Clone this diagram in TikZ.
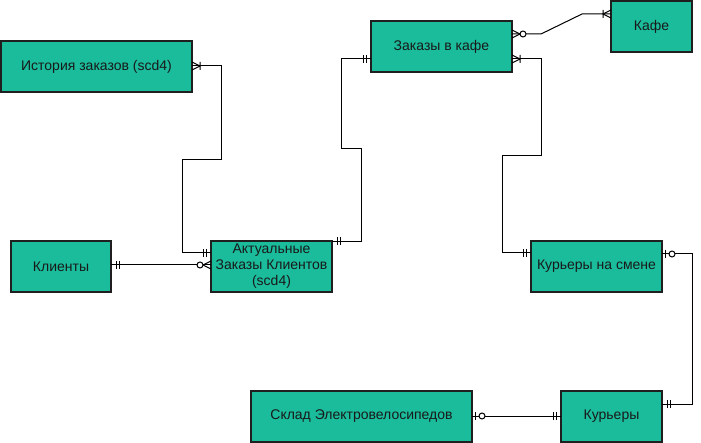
\documentclass[tikz,border=0pt]{standalone}
\usepackage{fontspec}
\setmainfont{Liberation Sans}
\definecolor{tealfill}{HTML}{1ABC9C}
\begin{document}
\begin{tikzpicture}[x=1pt,y=-1pt,
 entity/.style={draw=black!88, line width=2pt, fill=tealfill, minimum height=51pt, inner sep=0pt, outer sep=0pt,
   font=\fontsize{14}{16}\selectfont, text=black!90, align=center},
 conn/.style={draw=black, line width=1pt},
 mandone/.pic={\draw[conn] (5,-4)--(5,4) (8,-4)--(8,4);},
 onemany/.pic={\draw[conn] (0,-4)--(8,0)--(0,4) (8,-4)--(8,4);},
 zeromany/.pic={\draw[conn] (0,-4)--(8,0)--(0,4); \draw[conn,fill=white] (11,0) circle[radius=3pt];},
 zeroone/.pic={\draw[conn] (3,-4)--(3,4); \draw[conn,fill=white] (10,0) circle[radius=3pt];}
]
\useasboundingbox (0,0) rectangle (701,443);

\node[entity, minimum width=191pt] (hist) at (96.5,66.5) {История заказов (scd4)};
\node[entity, minimum width=141pt] (orders) at (441.5,46.5) {Заказы в кафе};
\node[entity, minimum width=81pt] (cafe) at (651.5,26.5) {Кафе};
\node[entity, minimum width=100pt] (clients) at (61,267) {Клиенты};
\node[entity, minimum width=121pt] (actual) at (271.5,266.5) {Актуальные\\Заказы Клиентов\\(scd4)};
\node[entity, minimum width=131pt] (shift) at (596.5,266.5) {Курьеры на смене};
\node[entity, minimum width=101pt] (couriers) at (611.5,416.5) {Курьеры};
\node[entity, minimum width=221pt] (sklad) at (361.5,416.5) {Склад Электровелосипедов};

% История -> Актуальные
\draw[conn] (hist.east |- 0,66) -- (221,66) -- (221,160) -- (182,160) -- (182,253) -- (actual.west |- 0,253);
\pic at (hist.east |- 0,66) {onemany};
\pic[rotate=180] at (actual.west |- 0,253) {mandone};

% Клиенты -> Актуальные
\draw[conn] (clients.east |- 0,265) -- (actual.west |- 0,265);
\pic at (clients.east |- 0,265) {mandone};
\pic[rotate=180] at (actual.west |- 0,265) {zeromany};

% Актуальные -> Заказы
\draw[conn] (actual.east |- 0,241.5) -- (361,241.5) -- (361,149) -- (341,149) -- (341,59) -- (orders.west |- 0,59);
\pic at (actual.east |- 0,241.5) {mandone};
\pic[rotate=180] at (orders.west |- 0,59) {mandone};

% Заказы -> Кафе
\draw[conn] (orders.east |- 0,34) -- (541,34) -- (582,14) -- (cafe.west |- 0,14);
\pic at (orders.east |- 0,34) {zeromany};
\pic[rotate=180] at (cafe.west |- 0,14) {onemany};

% Заказы -> Курьеры на смене
\draw[conn] (orders.east |- 0,59) -- (541,59) -- (541,156) -- (502,156) -- (502,253) -- (shift.west |- 0,253);
\pic at (orders.east |- 0,59) {onemany};
\pic[rotate=180] at (shift.west |- 0,253) {mandone};

% Курьеры на смене -> Курьеры
\draw[conn] (shift.east |- 0,254) -- (692,254) -- (692,404) -- (couriers.east |- 0,404);
\pic at (shift.east |- 0,254) {zeroone};
\pic at (couriers.east |- 0,404) {mandone};

% Склад -> Курьеры
\draw[conn] (sklad.east |- 0,416) -- (couriers.west |- 0,416);
\pic at (sklad.east |- 0,416) {zeroone};
\pic[rotate=180] at (couriers.west |- 0,416) {mandone};
\end{tikzpicture}
\end{document}
